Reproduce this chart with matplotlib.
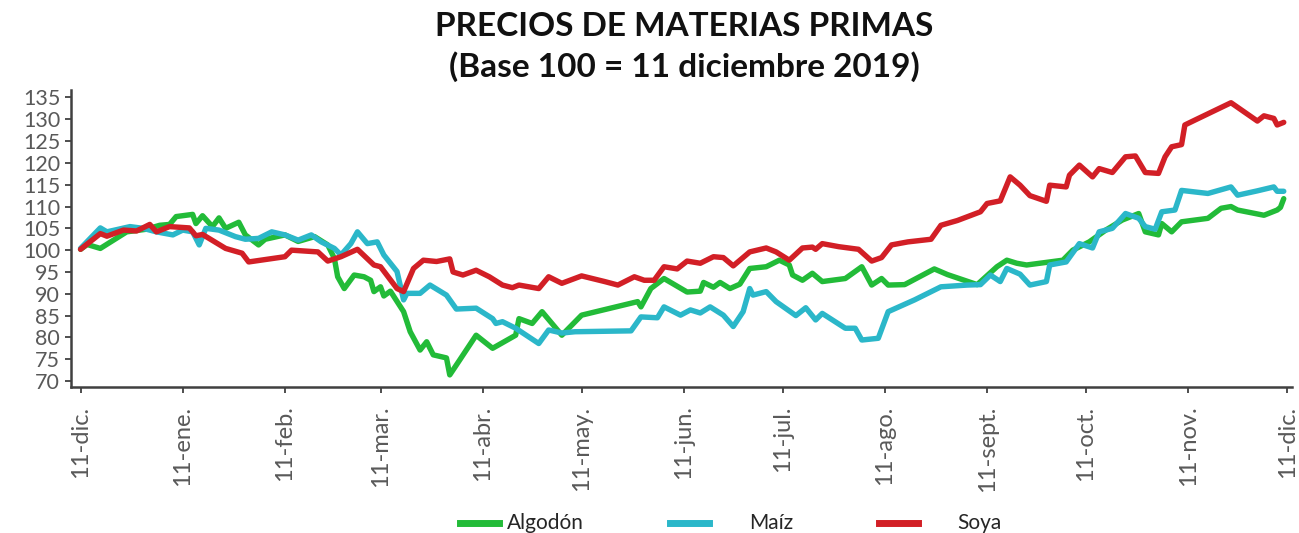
import matplotlib
matplotlib.use("Agg")
import matplotlib.pyplot as plt
from matplotlib.lines import Line2D
import pandas as pd

plt.rcParams['font.family'] = ['Lato', 'DejaVu Sans']

BASE = pd.Timestamp('2019-12-11')

# Days elapsed since the base date and index values (base 100)
algodon_days = [0, 2, 6, 14, 20, 24, 27, 29, 34, 35, 37, 40, 42, 44, 48, 50, 54, 56, 62, 66,
                71, 75, 77, 78, 80, 83, 86, 88, 89, 91, 92, 94, 98, 100, 103, 105, 107, 111, 112, 115,
                120, 125, 132, 133, 137, 140, 146, 152, 169, 170, 173, 177, 184, 188, 189, 192, 194, 197, 200, 203,
                208, 212, 215, 216, 219, 222, 225, 232, 237, 240, 243, 245, 250, 259, 263, 272, 278, 281, 284, 287,
                298, 301, 306, 311, 316, 321, 323, 327, 328, 331, 334, 342, 346, 349, 351, 359, 363, 364, 365]
algodon = [100.2, 101.3, 100.4, 104.2, 104.8, 105.7, 105.9, 107.7, 108.2, 106.1, 107.9, 105.4, 107.4, 105.0, 106.4, 103.5, 101.2, 102.5, 103.5, 102.0,
           103.1, 101.2, 98.1, 93.9, 91.2, 94.3, 93.9, 93.1, 90.5, 91.6, 89.5, 90.6, 85.9, 81.3, 77.1, 79.0, 76.0, 75.3, 71.4, 74.8,
           80.5, 77.5, 80.5, 84.3, 83.2, 85.9, 80.5, 85.1, 88.2, 87.0, 91.2, 93.5, 90.4, 90.6, 92.6, 91.5, 92.6, 91.2, 92.2, 95.8,
           96.2, 97.7, 96.6, 94.3, 93.1, 94.7, 92.8, 93.5, 96.2, 92.0, 93.5, 92.0, 92.1, 95.7, 94.4, 92.1, 96.2, 97.7, 97.0, 96.6,
           97.7, 100.0, 101.9, 104.6, 106.9, 108.4, 104.2, 103.5, 106.1, 104.2, 106.5, 107.3, 109.6, 110.0, 109.2, 108.0, 109.2, 109.8, 111.8]

maiz_days = [0, 6, 8, 15, 19, 23, 28, 31, 34, 36, 38, 42, 47, 50, 54, 58, 62, 66, 70, 73,
             77, 79, 82, 84, 87, 90, 92, 96, 98, 99, 103, 106, 111, 114, 120, 125, 126, 128, 132, 139,
             142, 146, 150, 167, 170, 175, 177, 182, 185, 188, 191, 195, 198, 201, 203, 204, 208, 211, 217, 220,
             223, 225, 232, 235, 237, 242, 245, 253, 261, 269, 273, 276, 279, 281, 285, 288, 293, 294, 299, 303,
             307, 309, 313, 317, 321, 323, 326, 328, 332, 334, 342, 349, 351, 357, 362, 363, 365]
maiz = [100.4, 105.1, 104.2, 105.4, 105.0, 104.2, 103.5, 104.6, 104.2, 101.2, 105.0, 104.6, 103.1, 102.5, 102.7, 104.2, 103.5, 102.3, 103.5, 101.9,
        100.4, 98.9, 101.5, 104.2, 101.5, 101.9, 98.9, 95.1, 88.6, 90.1, 90.1, 92.0, 89.7, 86.5, 86.7, 84.3, 83.2, 83.6, 82.1, 78.6,
        81.7, 81.0, 81.3, 81.5, 84.7, 84.5, 87.0, 85.1, 86.3, 85.6, 87.0, 85.1, 82.5, 85.9, 91.2, 89.7, 90.5, 88.2, 85.0, 86.8,
        84.0, 85.5, 82.1, 82.1, 79.4, 79.8, 85.9, 88.6, 91.6, 92.0, 92.1, 94.3, 92.8, 95.8, 94.5, 92.0, 92.8, 96.6, 97.3, 101.5,
        100.5, 104.2, 105.0, 108.4, 107.3, 105.4, 104.8, 108.8, 109.2, 113.7, 113.0, 114.5, 112.6, 113.6, 114.5, 113.5, 113.5]

soya_days = [0, 6, 8, 13, 17, 21, 23, 27, 33, 35, 37, 44, 49, 51, 62, 64, 72, 75, 79, 84,
             89, 91, 96, 98, 101, 104, 108, 112, 113, 116, 120, 124, 128, 131, 133, 139, 142, 146, 152, 159,
             163, 168, 171, 174, 177, 181, 184, 188, 192, 195, 198, 203, 208, 211, 215, 219, 222, 223, 225, 230,
             236, 240, 243, 246, 251, 258, 261, 266, 273, 275, 279, 282, 285, 288, 293, 294, 299, 300, 303, 307,
             309, 313, 317, 320, 323, 327, 329, 331, 334, 335, 338, 349, 353, 357, 359, 362, 363, 365]
soya = [100.2, 103.8, 103.2, 104.6, 104.4, 105.9, 104.2, 105.4, 105.1, 103.3, 103.6, 100.4, 99.3, 97.3, 98.5, 100.0, 99.6, 97.5, 98.5, 100.2,
        96.6, 96.2, 91.2, 90.5, 95.8, 97.7, 97.4, 98.0, 95.0, 94.3, 95.4, 93.9, 92.0, 91.4, 92.0, 91.2, 93.9, 92.4, 94.1, 92.8,
        92.0, 93.9, 93.1, 93.1, 96.2, 95.7, 97.5, 97.0, 98.5, 98.3, 96.4, 99.6, 100.5, 99.6, 97.7, 100.5, 100.7, 100.2, 101.5, 100.8,
        100.2, 97.5, 98.3, 101.2, 101.9, 102.5, 105.7, 106.8, 108.8, 110.7, 111.3, 116.8, 114.9, 112.5, 111.2, 114.9, 114.5, 117.2, 119.5, 116.8,
        118.7, 117.8, 121.4, 121.6, 117.8, 117.6, 121.4, 123.7, 124.2, 128.7, 129.8, 133.8, 131.7, 129.6, 130.8, 130.2, 128.7, 129.3]

month_labels = ['11-dic.', '11-ene.', '11-feb.', '11-mar.', '11-abr.', '11-may.', '11-jun.',
                '11-jul.', '11-ago.', '11-sept.', '11-oct.', '11-nov.', '11-dic.']
y_ticks = list(range(70, 136, 5))

series = [
    ('Algodón', algodon_days, algodon, '#22bb38'),
    ('Maíz', maiz_days, maiz, '#2bb7c9'),
    ('Soya', soya_days, soya, '#d21f26'),
]

W, H = 1299, 533
fig = plt.figure(figsize=(W / 100, H / 100), dpi=100)
ax = fig.add_axes([0.0544, 0.2745, 0.9402, 0.5565])

for name, days, vals, color in series:
    dates = BASE + pd.to_timedelta(days, unit='D')
    ax.plot(dates, vals, color=color, lw=3.9, label=name,
            solid_joinstyle='round', solid_capstyle='round')

tick_dates = pd.date_range(BASE, periods=len(month_labels), freq=pd.DateOffset(months=1))
ax.set_xticks(tick_dates)
ax.set_xticklabels(month_labels, rotation=90, fontsize=17, color='#595959')
ax.set_xlim(BASE - pd.Timedelta(days=3), BASE + pd.Timedelta(days=367.5))

ax.set_yticks(y_ticks)
ax.set_yticklabels([str(v) for v in y_ticks], fontsize=15.5, color='#595959')
ax.set_ylim(68.7, 136.7)

for side in ('top', 'right'):
    ax.spines[side].set_visible(False)
for side in ('left', 'bottom'):
    ax.spines[side].set_color('#404040')
    ax.spines[side].set_linewidth(1.8)
ax.tick_params(axis='both', direction='out', length=4.5, width=1.3, color='#404040')
ax.tick_params(axis='x', pad=9)
ax.tick_params(axis='y', pad=3)

fig.text(0.527, 1 - 27 / H, 'PRECIOS DE MATERIAS PRIMAS', ha='center', va='center',
         fontsize=24, fontweight='bold', color='#111111')
fig.text(0.527, 1 - 67 / H, '(Base 100 = 11 diciembre 2019)', ha='center', va='center',
         fontsize=24, fontweight='bold', color='#111111')

# Legend: colour swatch followed by the series name, laid out along the bottom
legend_y = 1 - 523 / H
legend_slots = [(460, 507), (670, 749), (879, 957)]
for (name, _, _, color), (x0, xt) in zip(series, legend_slots):
    fig.add_artist(Line2D([x0 / W, (x0 + 39) / W], [legend_y, legend_y],
                          color=color, lw=5, transform=fig.transFigure))
    fig.text(xt / W, legend_y, name, ha='left', va='center', fontsize=15, color='#262626')

fig.savefig('out.png', dpi=100)
